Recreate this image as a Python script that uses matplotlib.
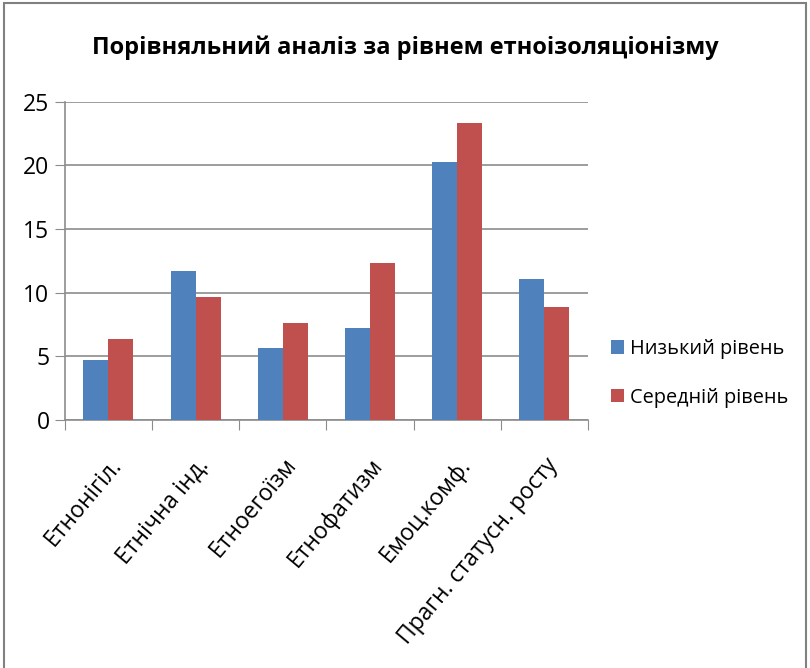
import numpy as np
import matplotlib.pyplot as plt
from matplotlib.patches import Rectangle

plt.rcParams['font.family'] = ['Open Sans', 'DejaVu Sans']

categories = ['Етнонігіл.', 'Етнічна інд.', 'Етноегоїзм', 'Етнофатизм',
              'Емоц.комф.', 'Прагн. статусн. росту']
low_level = [4.7, 11.7, 5.7, 7.25, 20.25, 11.1]
mid_level = [6.35, 9.65, 7.65, 12.35, 23.3, 8.9]
series_names = ['Низький рівень', 'Середній рівень']
colors = ['#4F81BD', '#C0504D']

fig = plt.figure(figsize=(8.1, 6.68), dpi=100)
ax = fig.add_axes([0.080, 0.371, 0.646, 0.477])

x = np.arange(len(categories))
w = 0.287
ax.bar(x - w / 2, low_level, w, color=colors[0], label=series_names[0], zorder=3)
ax.bar(x + w / 2, mid_level, w, color=colors[1], label=series_names[1], zorder=3)

ax.set_xlim(-0.5, len(categories) - 0.5)
ax.set_ylim(0, 25)
ax.set_yticks(range(0, 26, 5))
ax.yaxis.grid(True, color='#8c8c8c', lw=1.2, zorder=0)
ax.set_xticks(np.arange(-0.5, len(categories), 1))
ax.set_xticklabels([])
ax.set_xticks(x, minor=True)
ax.set_xticklabels(categories, minor=True, rotation=50, ha='right', va='top',
                   rotation_mode='anchor', fontsize=16.5)
ax.tick_params(axis='x', which='minor', length=0, pad=24)
ax.tick_params(axis='x', which='major', length=7, color='#8c8c8c')
ax.tick_params(axis='y', length=7, color='#8c8c8c', labelsize=16.5, pad=4)
for s in ['top', 'right']:
    ax.spines[s].set_visible(False)
for s in ['left', 'bottom']:
    ax.spines[s].set_color('#8c8c8c')
    ax.spines[s].set_linewidth(1.2)

fig.text(0.5, 0.928, 'Порівняльний аналіз за рівнем етноізоляціонізму',
         ha='center', va='center', fontsize=17, fontweight='bold')

ax.legend(loc='center left', bbox_to_anchor=(1.01, 0.147), frameon=False,
          fontsize=14.3, handlelength=0.65, handleheight=0.65, labelspacing=1.45,
          handletextpad=0.3)

fig.patches.append(Rectangle((0.005, -0.01), 0.99, 1.005, transform=fig.transFigure,
                             fill=False, edgecolor='#808080', lw=1.5))

fig.savefig('out.png', dpi=100)
